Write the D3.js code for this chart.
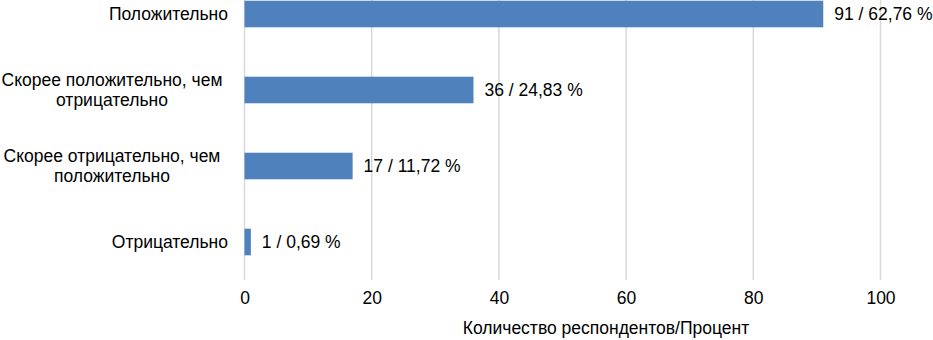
<!DOCTYPE html>
<html>
<head>
<meta charset="utf-8">
<script src="https://cdn.jsdelivr.net/npm/d3@7"></script>
<style>
  body { margin: 0; background: #fff; }
  text { font-family: "Liberation Sans", Arial, sans-serif; fill: #000; }
</style>
</head>
<body>
<svg id="chart" width="933" height="340"></svg>
<script>
const categories = [
  ["Положительно"],
  ["Скорее положительно, чем", "отрицательно"],
  ["Скорее отрицательно, чем", "положительно"],
  ["Отрицательно"]
];
const counts = [91, 36, 17, 1];
const percents = ["62,76", "24,83", "11,72", "0,69"];
const ticks = [0, 20, 40, 60, 80, 100];

const svg = d3.select("#chart");
const fs = "17.5px";

//plot box
const x = d3.scaleLinear().domain([0, 100]).range([244.5, 880.5]);
const y = d3.scaleBand()
  .domain(d3.range(categories.length))
  .range([-24, 280])
  .paddingInner(0.65)
  .paddingOuter(0.325);

//gridlines
svg.append("g")
  .selectAll("line")
  .data(ticks)
  .join("line")
  .attr("x1", d => x(d)).attr("x2", d => x(d))
  .attr("y1", 0).attr("y2", 280)
  .attr("stroke", "#d9d9d9")
  .attr("stroke-width", 1.5);

//bars
svg.append("g")
  .selectAll("rect")
  .data(counts)
  .join("rect")
  .attr("x", x(0))
  .attr("y", (d, i) => y(i))
  .attr("width", d => x(d) - x(0))
  .attr("height", y.bandwidth())
  .attr("fill", "#4f81bd");

//value labels
svg.append("g")
  .selectAll("text")
  .data(counts)
  .join("text")
  .attr("x", d => x(d) + 11)
  .attr("y", (d, i) => y(i) + y.bandwidth() / 2)
  .attr("dy", "0.35em")
  .attr("font-size", fs)
  .text((d, i) => `${d} / ${percents[i]} %`);

//category labels
const cat = svg.append("g")
  .selectAll("text")
  .data(categories)
  .join("text")
  .attr("font-size", fs)
  .attr("text-anchor", d => d.length > 1 ? "middle" : "end")
  .attr("x", d => d.length > 1 ? 112 : 228)
  .attr("y", (d, i) => y(i) + y.bandwidth() / 2 - (d.length - 1) * 10);
cat.selectAll("tspan")
  .data(d => d)
  .join("tspan")
  .attr("x", function() { return this.parentNode.getAttribute("x"); })
  .attr("dy", (d, i) => i === 0 ? "0.35em" : "20px")
  .text(d => d);

//x axis
const xAxis = svg.append("g")
  .attr("transform", "translate(0,280)")
  .call(d3.axisBottom(x).tickValues(ticks).tickSize(0).tickPadding(12));
xAxis.select(".domain").remove();
xAxis.selectAll("text")
  .attr("font-size", fs)
  .attr("font-family", "Liberation Sans, Arial, sans-serif")
  .attr("fill", "#000");

//axis title
svg.append("text")
  .attr("x", 606)
  .attr("y", 328)
  .attr("dy", "0.35em")
  .attr("text-anchor", "middle")
  .attr("font-size", fs)
  .text("Количество респондентов/Процент");
</script>
</body>
</html>
